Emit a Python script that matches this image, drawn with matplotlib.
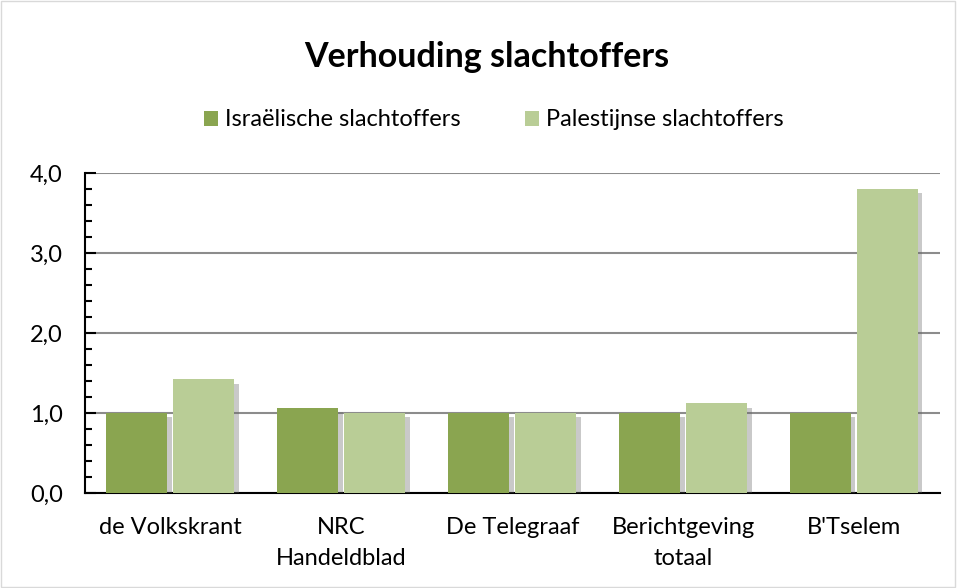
import matplotlib
matplotlib.use("Agg")
import matplotlib.pyplot as plt
import matplotlib.patheffects as pe
from matplotlib.ticker import MultipleLocator, FuncFormatter
from matplotlib.patches import Rectangle, Patch
import numpy as np

plt.rcParams['font.family'] = ['Lato', 'DejaVu Sans']

categories = ['de Volkskrant', 'NRC\nHandeldblad', 'De Telegraaf', 'Berichtgeving\ntotaal', "B'Tselem"]
israeli = [1.0, 1.06, 1.0, 1.0, 1.0]
palestinian = [1.42, 1.0, 1.0, 1.12, 3.8]
series_names = ['Israëlische slachtoffers', 'Palestijnse slachtoffers']
colors = ['#8aa550', '#b9cd96']

fig = plt.figure(figsize=(9.57, 5.88), dpi=100)
ax = fig.add_axes([0.0888, 0.1616, 0.8932, 0.5442])

x = np.arange(len(categories))
w = 0.357
off = 0.196
shadow = [pe.SimplePatchShadow(offset=(3, -3), shadow_rgbFace='#666666', alpha=0.35), pe.Normal()]
b1 = ax.bar(x - off, israeli, w, color=colors[0], zorder=3)
b2 = ax.bar(x + off, palestinian, w, color=colors[1], zorder=3)
for b in list(b1) + list(b2):
    b.set_path_effects(shadow)

ax.set_xlim(-0.5, len(categories) - 0.5)
ax.set_ylim(0, 4)
ax.yaxis.set_major_locator(MultipleLocator(1))
ax.yaxis.set_minor_locator(MultipleLocator(0.2))
ax.yaxis.set_major_formatter(FuncFormatter(lambda v, p: f'{v:.1f}'.replace('.', ',')))
ax.grid(axis='y', color='#8c8c8c', linewidth=1.5, zorder=0)
ax.set_axisbelow(True)
for s in ['top', 'right']:
    ax.spines[s].set_visible(False)
ax.spines['left'].set_linewidth(1.5)
ax.spines['bottom'].set_linewidth(1.5)
ax.tick_params(axis='y', which='major', direction='in', length=8, width=1.5, labelsize=17, pad=16)
ax.tick_params(axis='y', which='minor', direction='in', length=5, width=1.5)
ax.set_xticks(x)
ax.set_xticklabels(categories, fontsize=17, linespacing=1.6)
ax.tick_params(axis='x', length=0, pad=17)

fig.text(0.509, 0.903, 'Verhouding slachtoffers', ha='center', va='center', fontsize=24.5, fontweight='bold')
handles = [Patch(facecolor=c) for c in colors]
fig.legend(handles=handles, labels=series_names, loc='center', bbox_to_anchor=(0.516, 0.796), ncol=2,
           frameon=False, fontsize=17, handlelength=0.6, handleheight=0.6, handletextpad=0.3, columnspacing=2.7)

fig.patches.append(Rectangle((0.001, 0.001), 0.997, 0.997, transform=fig.transFigure,
                             fill=False, edgecolor='#d9d9d9', linewidth=1))

fig.savefig('out.png', dpi=100)
